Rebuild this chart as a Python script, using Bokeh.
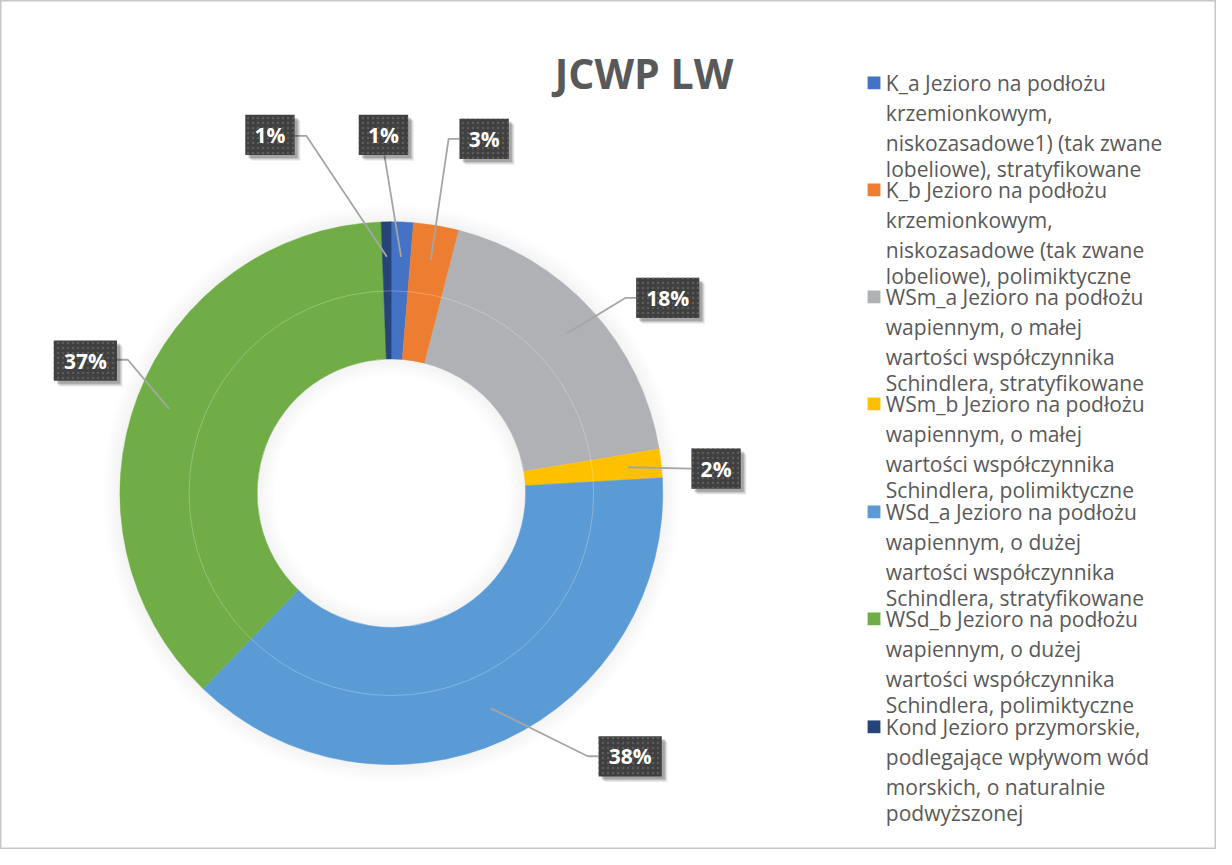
import numpy as np
from bokeh.plotting import figure
from bokeh.models import Range1d, ColumnDataSource
from bokeh.core.properties import value
from bokeh.embed import file_html
from bokeh.resources import INLINE

# ---------------- data ----------------
title = "JCWP LW"
categories = ["K_a", "K_b", "WSm_a", "WSm_b", "WSd_a", "WSd_b", "Kond"]
shares = [1.3, 2.7, 18.4, 1.7, 38.1, 37.2, 0.6]
colors = ["#4472C4", "#ED7D31", "#B0B1B5", "#FFC000", "#5B9BD5", "#70AD47", "#264478"]
legend_labels = [
    "K_a Jezioro na podłożu\nkrzemionkowym,\nniskozasadowe1) (tak zwane\nlobeliowe), stratyfikowane",
    "K_b Jezioro na podłożu\nkrzemionkowym,\nniskozasadowe (tak zwane\nlobeliowe), polimiktyczne",
    "WSm_a Jezioro na podłożu\nwapiennym, o małej\nwartości współczynnika\nSchindlera, stratyfikowane",
    "WSm_b Jezioro na podłożu\nwapiennym, o małej\nwartości współczynnika\nSchindlera, polimiktyczne",
    "WSd_a Jezioro na podłożu\nwapiennym, o dużej\nwartości współczynnika\nSchindlera, stratyfikowane",
    "WSd_b Jezioro na podłożu\nwapiennym, o dużej\nwartości współczynnika\nSchindlera, polimiktyczne",
    "Kond Jezioro przymorskie,\npodlegające wpływom wód\nmorskich, o naturalnie\npodwyższonej",
]

# ---------------- layout (reference picture coordinates) ----------------
W, H = 1216, 849
REF_W, REF_H = 1232, 865
def Y(py):
    return REF_H - py

cx, cy = 396, 502
R_OUT, R_MID, R_IN = 275, 205, 136
R_LEAD = 241

box_centres = [(388, 137), (490, 141), (676, 303), (725, 477), (638, 770), (86, 367), (273, 137)]
leader_starts = [
    [(389, 158)],
    [(465, 141), (454, 141)],
    [(644, 303), (633, 303)],
    [(700, 477)],
    [(606, 770), (595, 770)],
    [(118, 366), (129, 366)],
    [(298, 138), (310, 138)],
]

p = figure(width=W, height=H, output_backend="svg", toolbar_location=None,
           x_range=Range1d(0, REF_W), y_range=Range1d(0, REF_H),
           min_border=0, match_aspect=False)
p.axis.visible = False
p.grid.visible = False
p.outline_line_color = "#C8C8C8"
p.outline_line_width = 2
p.background_fill_color = "white"
p.border_fill_color = "white"

# soft shadow around the donut
n = 9
for k in range(n):
    a = 0.09 * (1 - k / n)
    p.annulus(x=[cx], y=[Y(cy)], inner_radius=R_OUT + 2 * k, outer_radius=R_OUT + 2 * k + 2,
              fill_color="#808080", fill_alpha=a, line_color=None)
    p.annulus(x=[cx], y=[Y(cy)], inner_radius=R_IN - 2 * k - 2, outer_radius=R_IN - 2 * k,
              fill_color="#808080", fill_alpha=a, line_color=None)

# wedges
vals = np.array(shares, dtype=float)
frac = vals / vals.sum()
cum = np.concatenate([[0], np.cumsum(frac)])
start = np.pi / 2 - cum[:-1] * 2 * np.pi
end = np.pi / 2 - cum[1:] * 2 * np.pi
src = ColumnDataSource(dict(start=start, end=end, color=colors))
p.annular_wedge(x=cx, y=Y(cy), inner_radius=R_IN, outer_radius=R_OUT,
                start_angle="start", end_angle="end", direction="clock",
                fill_color="color", line_color="color", line_width=0.5, source=src)
p.circle(x=[cx], y=[Y(cy)], radius=R_MID, fill_color=None, line_color="white",
         line_alpha=0.25, line_width=1)

# leaders
mid = (cum[:-1] + cum[1:]) / 2 * 2 * np.pi
for i in range(len(categories)):
    ex = cx + R_LEAD * np.sin(mid[i])
    ey = cy - R_LEAD * np.cos(mid[i])
    pts = leader_starts[i] + [(ex, ey)]
    p.line(x=[q[0] for q in pts], y=[Y(q[1]) for q in pts], line_color="#A5A5A5", line_width=1.8)

# labels
pct = [f"{int(round(f * 100))}%" for f in frac]
bw = [50 if len(t) == 2 else 64 for t in pct]
bx = [b[0] for b in box_centres]
by = [Y(b[1]) for b in box_centres]
for off, al in [(6, 0.06), (5, 0.08), (4, 0.12), (3, 0.15)]:
    p.rect(x=[x + off for x in bx], y=[y - off for y in by], width=bw, height=41,
           fill_color="black", fill_alpha=al, line_color=None)
p.rect(x=bx, y=by, width=bw, height=41, fill_color="#404040", line_color=None,
       hatch_pattern="dot", hatch_color="#5C5C5C", hatch_scale=5, hatch_weight=1)
p.text(x=bx, y=by, text=pct, text_color="white", text_font=value("Open Sans"),
       text_font_style="bold", text_font_size="21px", text_align="center",
       text_baseline="middle")

# title
p.text(x=[652], y=[Y(74)], text=[title], text_color="#595959", text_font=value("Open Sans"),
       text_font_style="bold", text_font_size="41px", text_align="center",
       text_baseline="middle")

# legend
entry_y0 = [84, 193, 302, 411, 521, 630, 740]
line_off = [0, 30.5, 61, 88]
lx, ly, lt = [], [], []
for i, lab in enumerate(legend_labels):
    for j, ln in enumerate(lab.split("\n")):
        lx.append(897)
        ly.append(Y(entry_y0[i] + line_off[j]))
        lt.append(ln)
p.rect(x=[885] * len(categories), y=[Y(v) for v in entry_y0], width=13, height=13,
       fill_color=colors, line_color=None)
p.text(x=lx, y=ly, text=lt, text_color="#595959", text_font=value("Open Sans"),
       text_font_size="21px", text_align="left", text_baseline="middle")

open("out.html", "w").write(file_html(p, INLINE))
